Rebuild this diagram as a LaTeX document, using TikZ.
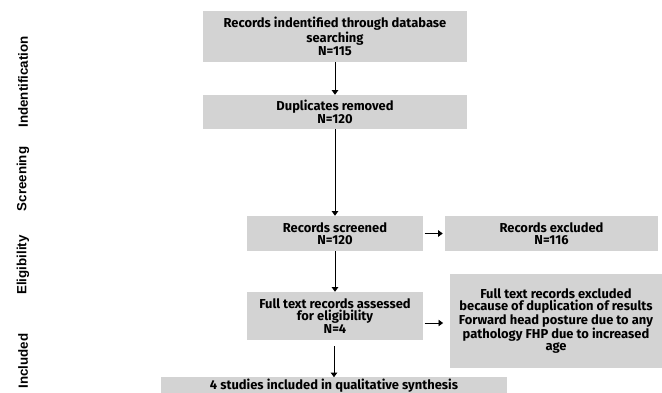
\documentclass[tikz,border=0pt]{standalone}
\usepackage{fontspec}
\setmainfont{Fira Sans}
\newfontfamily\stagefont{Liberation Sans}
\usetikzlibrary{arrows.meta}

\definecolor{boxgrey}{RGB}{211,211,211}

\tikzset{
  flowbox/.style={fill=boxgrey, draw=none, align=center, inner sep=1pt,
    font=\bfseries\fontsize{9.7}{8.6}\selectfont},
  flowarr/.style={-{Triangle[width=4.8pt,length=3.4pt]}, line width=0.6pt},
  stage/.style={rotate=90, font=\stagefont\bfseries\fontsize{10}{10}\selectfont}
}

\begin{document}
\begin{tikzpicture}[x=0.75pt,y=0.75pt,yscale=-1,xscale=1]
\clip (0,0) rectangle (662,393);

% Stage labels
\node [stage] (lblident) at (23,82) {Indentification};
\node [stage] (lblscreen) at (23,179) {Screening};
\node [stage] (lblelig) at (23,265) {Eligibility};
\node [stage] (lblincl) at (23,361) {Included};

%Shape: Rectangle
\node [flowbox, minimum width=198pt, minimum height=38.25pt] (recid) at (335,36.5) {Records indentified through database\\searching\\N=115};
%Shape: Rectangle
\node [flowbox, minimum width=198pt, minimum height=25.5pt] (dupl) at (335,112) {Duplicates removed\\N=120};
%Shape: Rectangle
\node [flowbox, minimum width=132pt, minimum height=26.25pt] (screened) at (335,233.5) {Records screened\\N=120};
%Shape: Rectangle
\node [flowbox, minimum width=159.75pt, minimum height=26.25pt] (excl) at (551.5,233.5) {Records excluded\\N=116};
%Shape: Rectangle
\node [flowbox, minimum width=132pt, minimum height=36pt] (assessed) at (335,316) {Full text records assessed\\for eligibility\\N=4};
%Shape: Rectangle
\node [flowbox, minimum width=159pt, minimum height=70.5pt] (ftexcl) at (556,321) {Full text records excluded\\because of duplication of results\\Forward head posture due to any\\pathology FHP due to increased\\age};
%Shape: Rectangle
\node [flowbox, minimum width=259.5pt, minimum height=12pt] (incl) at (334,385.5) {4 studies included in qualitative synthesis};

%Straight Lines
\draw [flowarr] (recid) -- (dupl);
\draw [flowarr] (dupl) -- (screened);
\draw [flowarr, shorten <=1pt, shorten >=1.5pt] (screened.east) -- (excl.west);
\draw [flowarr] (screened) -- (assessed);
\draw [flowarr, shorten <=1pt, shorten >=5pt] ([yshift=5.25pt]assessed.east) -- ([yshift=5.25pt]assessed.east -| ftexcl.west);
\draw [flowarr, shorten <=4.5pt] (assessed.south -| incl.north) -- (incl.north);

\end{tikzpicture}
\end{document}
